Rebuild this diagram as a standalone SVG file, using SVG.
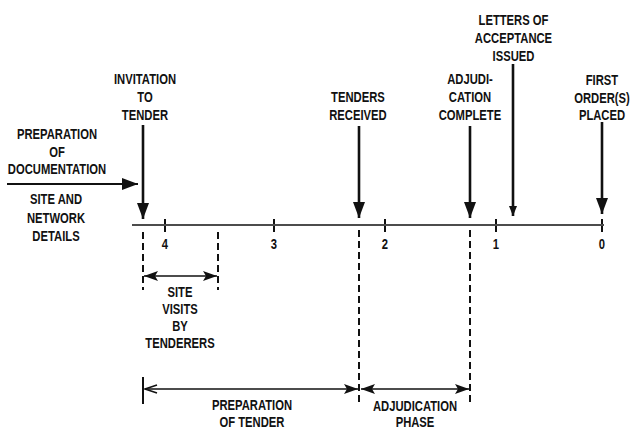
<svg xmlns="http://www.w3.org/2000/svg" width="640" height="429" viewBox="0 0 640 429">
  <defs>
    <style>
      text { font-family: "Liberation Sans", Arial, sans-serif; font-weight: bold; font-size: 15px; fill: #111; text-anchor: middle; }
      .axis { stroke: #111; stroke-width: 1.6; fill: none; }
      .event { stroke: #111; stroke-width: 2.6; fill: none; }
      .feed { stroke: #111; stroke-width: 2; fill: none; }
      .tick { stroke: #111; stroke-width: 2; stroke-dasharray: 5 2 6; fill: none; }
      .guide { stroke: #111; stroke-width: 2; stroke-dasharray: 7 4; fill: none; }
      .span { stroke: #111; stroke-width: 1.6; fill: none; }
      .bar { stroke: #111; stroke-width: 2; fill: none; }
    </style>
    <marker id="bigHead" markerUnits="userSpaceOnUse" markerWidth="16" markerHeight="12" refX="16" refY="6" orient="auto">
      <path d="M0,0 L16,6 L0,12 z" fill="#111"/>
    </marker>
    <marker id="smallHead" markerUnits="userSpaceOnUse" markerWidth="10" markerHeight="8" refX="10" refY="4" orient="auto">
      <path d="M0,0 L10,4 L0,8 z" fill="#111"/>
    </marker>
    <marker id="spanHead" markerUnits="userSpaceOnUse" markerWidth="14" markerHeight="10" refX="14" refY="5" orient="auto-start-reverse">
      <path d="M0,0 L14,5 L0,10 L3,5 z" fill="#111"/>
    </marker>
    <marker id="openHead" markerUnits="userSpaceOnUse" markerWidth="14" markerHeight="10" refX="1" refY="5" orient="auto">
      <path d="M13,1 L1,5 L13,9" fill="none" stroke="#111" stroke-width="1.6"/>
    </marker>
  </defs>

  <!-- time axis with week ticks -->
  <g id="axis">
    <line class="axis" x1="132" y1="225" x2="604" y2="225"/>
    <line class="tick" x1="165" y1="219" x2="165" y2="233"/>
    <line class="tick" x1="274" y1="219" x2="274" y2="233"/>
    <line class="tick" x1="385" y1="219" x2="385" y2="233"/>
    <line class="tick" x1="496" y1="219" x2="496" y2="233"/>
    <line class="tick" x1="602" y1="219" x2="602" y2="233"/>
    <!-- labels set in a condensed width (x coordinates are pre-scaled by 1/0.75) -->
    <g transform="scale(0.75 1)">
      <text x="220" y="249">4</text>
      <text x="365.33" y="249">3</text>
      <text x="513.33" y="249">2</text>
      <text x="661.33" y="249">1</text>
      <text x="802.67" y="249">0</text>
    </g>
  </g>

  <!-- events on the axis -->
  <g id="documentation" transform="scale(0.75 1)">
    <text x="76" y="139">PREPARATION</text>
    <text x="76" y="157">OF</text>
    <text x="76" y="174">DOCUMENTATION</text>
    <text x="74.67" y="204">SITE AND</text>
    <text x="74.67" y="223">NETWORK</text>
    <text x="74.67" y="241">DETAILS</text>
  </g>
  <g id="invitation" transform="scale(0.75 1)">
    <text x="193.33" y="84">INVITATION</text>
    <text x="193.33" y="102">TO</text>
    <text x="193.33" y="120">TENDER</text>
  </g>
  <g id="tenders-received" transform="scale(0.75 1)">
    <text x="477.33" y="102">TENDERS</text>
    <text x="477.33" y="120">RECEIVED</text>
  </g>
  <g id="adjudication-complete" transform="scale(0.75 1)">
    <text x="626.67" y="84">ADJUDI-</text>
    <text x="626.67" y="102">CATION</text>
    <text x="626.67" y="120">COMPLETE</text>
  </g>
  <g id="letters-of-acceptance" transform="scale(0.75 1)">
    <text x="684.67" y="25">LETTERS OF</text>
    <text x="684.67" y="43">ACCEPTANCE</text>
    <text x="684.67" y="61">ISSUED</text>
  </g>
  <g id="first-order" transform="scale(0.75 1)">
    <text x="802.67" y="85">FIRST</text>
    <text x="802.67" y="103">ORDER(S)</text>
    <text x="802.67" y="120">PLACED</text>
  </g>

  <!-- phase spans below the axis -->
  <g id="site-visits" transform="scale(0.75 1)">
    <text x="240" y="297">SITE</text>
    <text x="240" y="314">VISITS</text>
    <text x="240" y="331">BY</text>
    <text x="240" y="348">TENDERERS</text>
  </g>
  <g id="tender-preparation" transform="scale(0.75 1)">
    <text x="336" y="410">PREPARATION</text>
    <text x="336" y="427">OF TENDER</text>
  </g>
  <g id="adjudication-phase" transform="scale(0.75 1)">
    <text x="553.33" y="411">ADJUDICATION</text>
    <text x="553.33" y="427">PHASE</text>
  </g>

  <g id="connectors">
    <!-- input arrow -->
    <line class="feed" x1="7" y1="184" x2="138" y2="184" marker-end="url(#bigHead)"/>
    <!-- event arrows -->
    <line class="event" x1="143" y1="125" x2="143" y2="219" marker-end="url(#bigHead)"/>
    <line class="event" x1="359" y1="126" x2="359" y2="218" marker-end="url(#bigHead)"/>
    <line class="event" x1="470" y1="126" x2="470" y2="218" marker-end="url(#bigHead)"/>
    <line class="event" x1="513" y1="64" x2="513" y2="216" marker-end="url(#smallHead)"/>
    <line class="event" x1="602" y1="122" x2="602" y2="214" marker-end="url(#bigHead)"/>
    <!-- guide lines -->
    <line class="guide" x1="143" y1="232" x2="143" y2="290"/>
    <line class="guide" x1="218" y1="232" x2="218" y2="290"/>
    <line class="guide" x1="359" y1="230" x2="359" y2="402"/>
    <line class="guide" x1="470" y1="230" x2="470" y2="403"/>
    <line class="bar" x1="143" y1="377" x2="143" y2="404"/>
    <!-- spans -->
    <line class="span" x1="144" y1="276" x2="217" y2="276" marker-start="url(#spanHead)" marker-end="url(#spanHead)"/>
    <line class="span" x1="145" y1="389" x2="358" y2="389" marker-start="url(#openHead)" marker-end="url(#spanHead)"/>
    <line class="span" x1="361" y1="389" x2="469" y2="389" marker-start="url(#spanHead)" marker-end="url(#spanHead)"/>
  </g>
</svg>
